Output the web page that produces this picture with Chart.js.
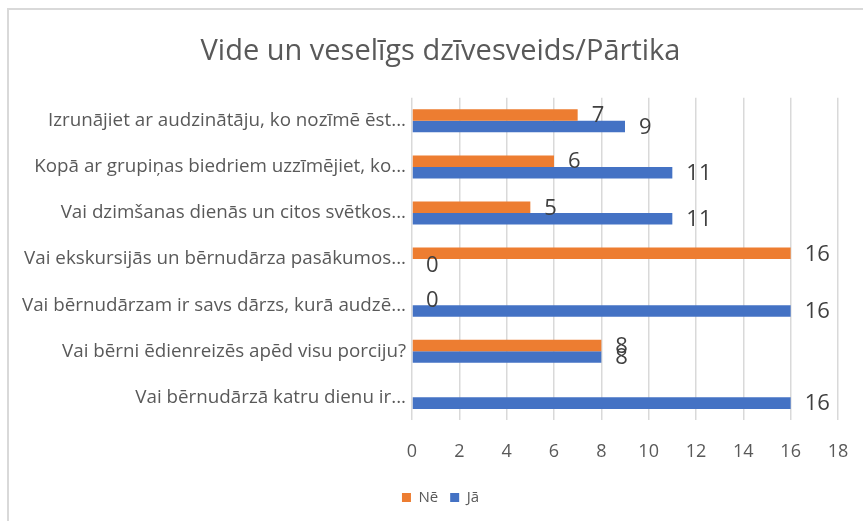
<!DOCTYPE html>
<html>
<head>
<meta charset="utf-8">
<script src="https://cdn.jsdelivr.net/npm/chart.js@4.4.1/dist/chart.umd.min.js"></script>
<style>
  html, body { margin: 0; padding: 0; background: #fff; }
  #wrap { position: relative; width: 863px; height: 521px; overflow: hidden; }
  #frame { position: absolute; left: 7px; top: 8px; width: 900px; height: 600px;
           border-left: 2px solid #d9d9d9; border-top: 2px solid #d9d9d9; box-sizing: border-box; }
  canvas { position: absolute; left: 0; top: 0; }
</style>
</head>
<body>
<div id="wrap">
  <div id="frame"></div>
  <canvas id="c" width="863" height="521"></canvas>
</div>
<script>
const chartTitle = "Vide un veselīgs dzīvesveids/Pārtika";
const categories = [
  "Izrunājiet ar audzinātāju, ko nozīmē ēst...",
  "Kopā ar grupiņas biedriem uzzīmējiet, ko...",
  "Vai dzimšanas dienās un citos svētkos...",
  "Vai ekskursijās un bērnudārza pasākumos...",
  "Vai bērnudārzam ir savs dārzs, kurā audzē...",
  "Vai bērni ēdienreizēs apēd visu porciju?",
  "Vai bērnudārzā katru dienu ir..."
];
const seriesNames = ["Nē", "Jā"];
const valuesNe = [7, 6, 5, 16, 0, 8, null];
const valuesJa = [9, 11, 11, 0, 16, 8, 16];
const xTicks = [0, 2, 4, 6, 8, 10, 12, 14, 16, 18];

const FONT = "'Open Sans', Lato, sans-serif";

const dataLabels = {
  id: 'dataLabels',
  afterDatasetsDraw(chart) {
    const ctx = chart.ctx;
    ctx.save();
    ctx.font = "22px " + FONT;
    ctx.fillStyle = "#404040";
    ctx.textAlign = "left";
    ctx.textBaseline = "middle";
    chart.data.datasets.forEach((ds, di) => {
      const meta = chart.getDatasetMeta(di);
      meta.data.forEach((bar, i) => {
        const v = ds.data[i];
        if (v === null || v === undefined) return;
        ctx.fillText(String(v), bar.x + 14, bar.y + 1);
      });
    });
    ctx.restore();
  }
};

new Chart(document.getElementById('c'), {
  type: 'bar',
  data: {
    labels: categories,
    datasets: [
      { label: seriesNames[0], data: valuesNe, backgroundColor: '#ED7D31',
        categoryPercentage: 0.5, barPercentage: 1.0 },
      { label: seriesNames[1], data: valuesJa, backgroundColor: '#4472C4',
        categoryPercentage: 0.5, barPercentage: 1.0 }
    ]
  },
  plugins: [dataLabels],
  options: {
    indexAxis: 'y',
    responsive: false,
    animation: false,
    layout: { padding: { left: 18, right: 0, top: 0, bottom: 6 } },
    plugins: {
      title: {
        display: true, text: chartTitle, color: '#595959',
        font: { family: FONT, size: 29, weight: 'normal' },
        padding: { top: 34, bottom: 29 }
      },
      legend: {
        position: 'bottom',
        labels: {
          color: '#595959', boxWidth: 9, boxHeight: 9,
          font: { family: FONT, size: 15 }, padding: 12
        }
      },
      tooltip: { enabled: false }
    },
    scales: {
      x: {
        min: 0, max: 18,
        afterBuildTicks(scale) { scale.ticks = xTicks.map(v => ({ value: v })); },
        afterFit(scale) { scale.paddingRight = 25; scale.height -= 6; },
        grid: { color: '#d9d9d9', lineWidth: 1.5, drawTicks: false },
        border: { display: false },
        ticks: { color: '#595959', font: { family: FONT, size: 18 }, padding: 21 }
      },
      y: {
        afterFit(scale) { scale.width = 394; },
        grid: { display: false, drawTicks: false },
        border: { display: false },
        ticks: { color: '#595959', font: { family: FONT, size: 18.8 }, padding: 6, autoSkip: false }
      }
    }
  }
});
</script>
</body>
</html>
